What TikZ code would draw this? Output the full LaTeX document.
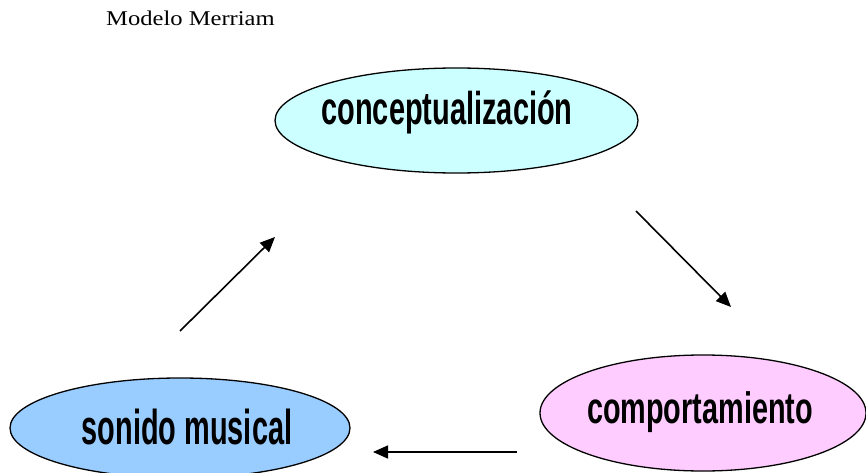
\documentclass[tikz,border=0pt]{standalone}
\usepackage{fontspec}
\setmainfont{Liberation Serif}
\newfontfamily\condA[FakeStretch=0.63]{Liberation Sans}
\newfontfamily\condB[FakeStretch=0.59]{Liberation Sans}
\newfontfamily\condC[FakeStretch=0.655]{Liberation Sans}
\newfontfamily\titlefont[FakeStretch=1.17]{Liberation Serif}
\usetikzlibrary{shapes.geometric,arrows.meta}
\definecolor{cyanfill}{HTML}{CCFFFF}
\definecolor{pinkfill}{HTML}{FFCCFF}
\definecolor{bluefill}{HTML}{99CCFF}
\begin{document}
\begin{tikzpicture}[x=1pt,y=-1pt,
  oval/.style={ellipse,draw=black,line width=1.3pt,inner sep=0pt},
  word/.style={anchor=base,inner sep=0pt,text=black},
  flow/.style={line width=1.6pt,-{Triangle[length=15pt,width=13pt]}}]
\useasboundingbox (0,0) rectangle (866,473);
\clip (0,0) rectangle (866,473);
\node[word,anchor=base west] (title) at (106,26) {\titlefont\fontsize{21}{21}\selectfont Modelo Merriam};
\node[oval,fill=cyanfill,minimum width=363pt,minimum height=105pt] (concept) at (456.5,120.5) {};
\node[oval,fill=pinkfill,minimum width=326pt,minimum height=116pt] (comport) at (703,413) {};
\node[oval,fill=bluefill,minimum width=340pt,minimum height=100pt] (sonido) at (180,428) {};
\node[word] (tconcept) at (447,125) {\condA\bfseries\fontsize{46}{46}\selectfont conceptualización};
\node[word] (tcomport) at (700,423) {\condC\bfseries\fontsize{44}{44}\selectfont comportamiento};
\node[word] (tsonido) at (187,444) {\condB\bfseries\fontsize{49}{49}\selectfont sonido musical};
\coordinate (a1s) at (180,331);
\coordinate (a1e) at (275,237);
\coordinate (a2s) at (636,211);
\coordinate (a2e) at (731,307);
\coordinate (a3s) at (517,452);
\coordinate (a3e) at (373,452);
\draw[flow] (a1s) -- (a1e);
\draw[flow] (a2s) -- (a2e);
\draw[flow] (a3s) -- (a3e);
\end{tikzpicture}
\end{document}
